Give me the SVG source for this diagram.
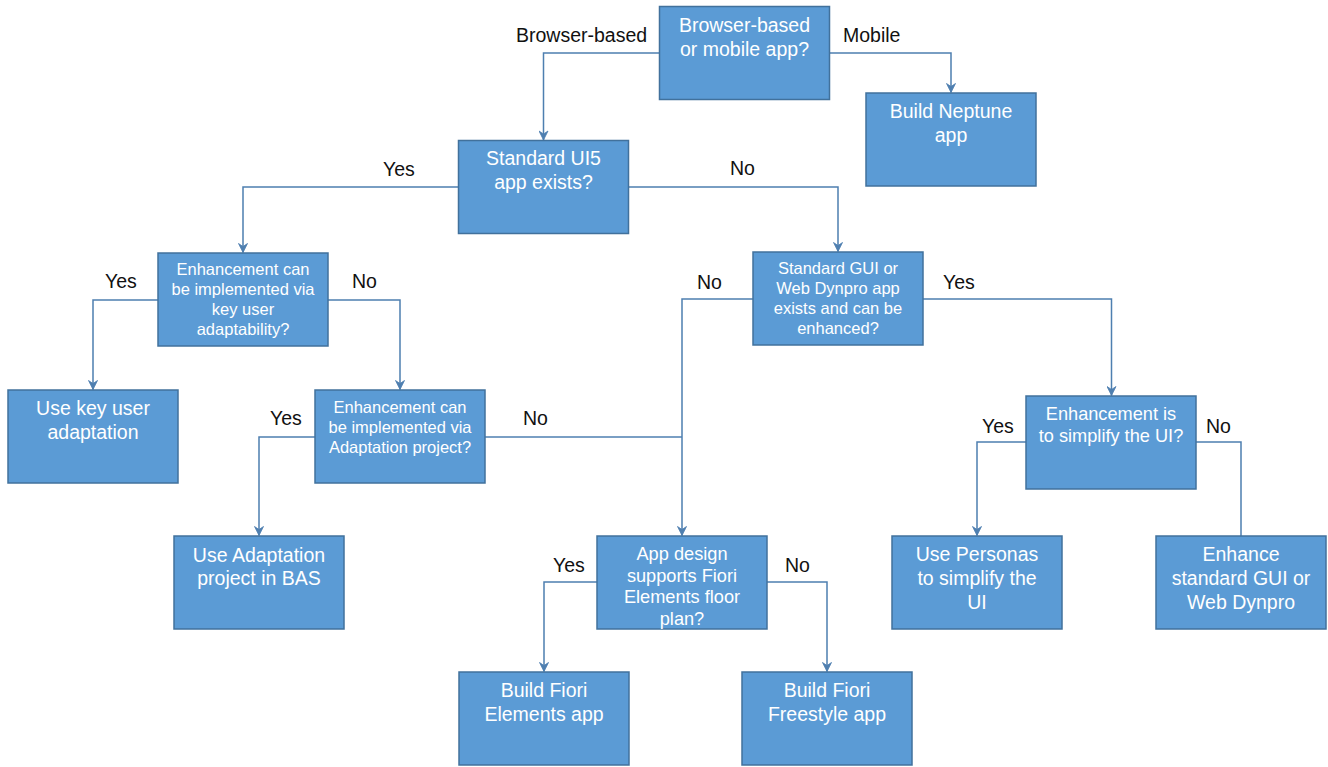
<svg xmlns="http://www.w3.org/2000/svg" width="1328" height="767" viewBox="0 0 1328 767">
<defs>
<style>
.box{fill:#5B9BD5;stroke:#41719C;stroke-width:1.5}
.t{font-family:"Liberation Sans",Arial,sans-serif;fill:#FFFFFF;text-anchor:middle}
.big{font-size:19.5px}
.sm{font-size:16.5px}
.md{font-size:18.2px}
.lbl{font-family:"Liberation Sans",Arial,sans-serif;font-size:19.5px;fill:#111111}
.c{fill:none;stroke:#4E7FB0;stroke-width:1.5}
.a{marker-end:url(#arr)}
</style>
<marker id="arr" viewBox="-10 -5 11 10" markerWidth="11" markerHeight="10" refX="0" refY="0" orient="auto" markerUnits="userSpaceOnUse">
<path d="M0,0 L-9,-4.5 L-6,0 L-9,4.5 Z" fill="#4E7FB0" stroke="#4E7FB0" stroke-width="0.8"/>
</marker>
</defs>
<rect width="1328" height="767" fill="#FFFFFF"/>
<g id="connectors">
<path class="c a" d="M659.5,53 H543.5 V140"/>
<path class="c a" d="M829.5,53 H951 V92.5"/>
<path class="c a" d="M458.5,187 H243 V252.5"/>
<path class="c a" d="M628.5,187 H838 V251.5"/>
<path class="c a" d="M158,300 H93 V389.5"/>
<path class="c a" d="M328,300 H400 V389.5"/>
<path class="c a" d="M753,299 H682 V535.5"/>
<path class="c a" d="M923,299 H1111.5 V395.5"/>
<path class="c a" d="M315,437 H259 V535.5"/>
<path class="c" d="M485,437 H682"/>
<path class="c a" d="M597,582 H544 V671.5"/>
<path class="c a" d="M767,582 H827 V671.5"/>
<path class="c a" d="M1026,442 H977 V535.5"/>
<path class="c" d="M1196,442 H1241 V536"/>
</g>
<g id="labels">
<text class="lbl" x="516" y="42">Browser-based</text>
<text class="lbl" x="843" y="42">Mobile</text>
<text class="lbl" x="383" y="176">Yes</text>
<text class="lbl" x="730" y="175">No</text>
<text class="lbl" x="105" y="288">Yes</text>
<text class="lbl" x="352" y="288">No</text>
<text class="lbl" x="697" y="289">No</text>
<text class="lbl" x="943" y="289">Yes</text>
<text class="lbl" x="270" y="425">Yes</text>
<text class="lbl" x="523" y="425">No</text>
<text class="lbl" x="982" y="433">Yes</text>
<text class="lbl" x="1206" y="433">No</text>
<text class="lbl" x="553" y="572">Yes</text>
<text class="lbl" x="785" y="572">No</text>
</g>
<g id="n-browser">
<rect class="box" x="659.5" y="6.5" width="170" height="93"/>
<text class="t big" x="744.5" y="32">Browser-based</text>
<text class="t big" x="744.5" y="55.5">or mobile app?</text>
</g>
<g id="n-neptune">
<rect class="box" x="866" y="93" width="170" height="93"/>
<text class="t big" x="951" y="118">Build Neptune</text>
<text class="t big" x="951" y="141.5">app</text>
</g>
<g id="n-ui5">
<rect class="box" x="458.5" y="140.5" width="170" height="93"/>
<text class="t big" x="543.5" y="165">Standard UI5</text>
<text class="t big" x="543.5" y="188.5">app exists?</text>
</g>
<g id="n-keyuser-q">
<rect class="box" x="158" y="253" width="170" height="93"/>
<text class="t sm" x="243" y="274.5">Enhancement can</text>
<text class="t sm" x="243" y="294.5">be implemented via</text>
<text class="t sm" x="243" y="314.5">key user</text>
<text class="t sm" x="243" y="334.5">adaptability?</text>
</g>
<g id="n-gui-q">
<rect class="box" x="753" y="252" width="170" height="93"/>
<text class="t sm" x="838" y="273.5">Standard GUI or</text>
<text class="t sm" x="838" y="293.5">Web Dynpro app</text>
<text class="t sm" x="838" y="313.5">exists and can be</text>
<text class="t sm" x="838" y="333.5">enhanced?</text>
</g>
<g id="n-keyuser">
<rect class="box" x="8" y="390" width="170" height="93"/>
<text class="t big" x="93" y="415">Use key user</text>
<text class="t big" x="93" y="438.5">adaptation</text>
</g>
<g id="n-adapt-q">
<rect class="box" x="315" y="390" width="170" height="93"/>
<text class="t sm" x="400" y="412.5">Enhancement can</text>
<text class="t sm" x="400" y="432.5">be implemented via</text>
<text class="t sm" x="400" y="452.5">Adaptation project?</text>
</g>
<g id="n-simplify-q">
<rect class="box" x="1026" y="396" width="170" height="93"/>
<text class="t md" x="1111" y="420">Enhancement is</text>
<text class="t md" x="1111" y="441.7">to simplify the UI?</text>
</g>
<g id="n-bas">
<rect class="box" x="174" y="536" width="170" height="93"/>
<text class="t big" x="259" y="561.5">Use Adaptation</text>
<text class="t big" x="259" y="585">project in BAS</text>
</g>
<g id="n-fiori-q">
<rect class="box" x="597" y="536" width="170" height="93"/>
<text class="t md" x="682" y="560">App design</text>
<text class="t md" x="682" y="581.5">supports Fiori</text>
<text class="t md" x="682" y="603">Elements floor</text>
<text class="t md" x="682" y="624.5">plan?</text>
</g>
<g id="n-personas">
<rect class="box" x="892" y="536" width="170" height="93"/>
<text class="t big" x="977" y="561">Use Personas</text>
<text class="t big" x="977" y="585">to simplify the</text>
<text class="t big" x="977" y="609">UI</text>
</g>
<g id="n-enhance">
<rect class="box" x="1156" y="536" width="170" height="93"/>
<text class="t big" x="1241" y="561">Enhance</text>
<text class="t big" x="1241" y="585">standard GUI or</text>
<text class="t big" x="1241" y="609">Web Dynpro</text>
</g>
<g id="n-elements">
<rect class="box" x="459" y="672" width="170" height="93"/>
<text class="t big" x="544" y="697">Build Fiori</text>
<text class="t big" x="544" y="721">Elements app</text>
</g>
<g id="n-freestyle">
<rect class="box" x="742" y="672" width="170" height="93"/>
<text class="t big" x="827" y="697">Build Fiori</text>
<text class="t big" x="827" y="721">Freestyle app</text>
</g>
</svg>
